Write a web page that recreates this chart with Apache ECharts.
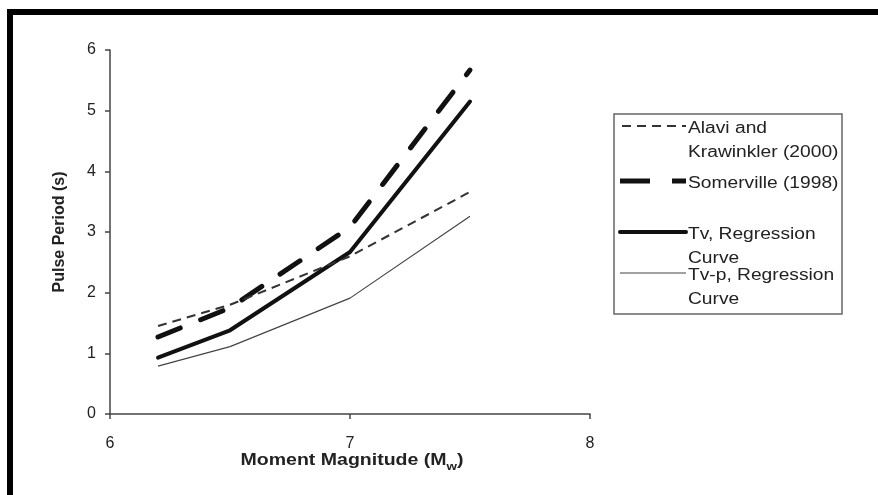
<!DOCTYPE html>
<html>
<head>
<meta charset="utf-8">
<script src="https://cdn.jsdelivr.net/npm/echarts@6/dist/echarts.min.js"></script>
<style>
  html, body { margin: 0; padding: 0; background: #fff; }
  #chart { width: 878px; height: 495px; }
</style>
</head>
<body>
<div id="chart"></div>
<script>
// Pulse period versus moment magnitude
var magnitudes = [6.2, 6.5, 7.0, 7.5];
var alaviKrawinkler = [1.45, 1.8, 2.6, 3.66];
var somerville = [1.27, 1.75, 3.08, 5.67];
var tvRegression = [0.93, 1.38, 2.67, 5.15];
var tvpRegression = [0.79, 1.11, 1.91, 3.26];

var seriesNames = ['Alavi and\nKrawinkler (2000)', 'Somerville (1998)', 'Tv, Regression\nCurve', 'Tv-p, Regression\nCurve'];
var xTicks = [6, 7, 8];
var yTicks = [0, 1, 2, 3, 4, 5, 6];
var xTitleParts = ['Moment Magnitude (M', 'w', ')'];

function pairs(ys) {
  return magnitudes.map(function (m, i) { return [m, ys[i]]; });
}

var lineStyles = [
  { color: '#333', width: 2, type: [9, 6] },
  { color: '#111', width: 5, type: [24, 22], cap: 'round' },
  { color: '#111', width: 4, type: 'solid', cap: 'round', join: 'round' },
  { color: '#444', width: 1.2, type: 'solid' }
];
var seriesData = [alaviKrawinkler, somerville, tvRegression, tvpRegression];

var font = '"Liberation Sans", Arial, Helvetica, sans-serif';

// legend panel built from shapes and text
var legendGraphics = [
  { type: 'rect', shape: { x: 614, y: 114, width: 228, height: 200 },
    style: { fill: '#fff', stroke: '#666', lineWidth: 1.5 }, z: 10 }
];
var legendRows = [126, 181, 232, 273];
var legendSamples = [[622, 686], [620, 686], [620, 686], [620, 686]];
seriesNames.forEach(function (name, i) {
  var ls = lineStyles[i];
  legendGraphics.push({
    type: 'line', z: 11,
    shape: { x1: legendSamples[i][0], y1: legendRows[i], x2: legendSamples[i][1], y2: legendRows[i] },
    style: { stroke: ls.color, lineWidth: ls.width,
             lineDash: Array.isArray(ls.type) ? (i === 1 ? [30, 22] : ls.type) : null,
             lineCap: i === 2 ? 'round' : 'butt' }
  });
  legendGraphics.push({
    type: 'text', z: 11, x: 688, y: legendRows[i] - 9, scaleX: 1.2,
    style: { text: name, font: '16px ' + font, fill: '#222',
             align: 'left', verticalAlign: 'top', lineHeight: 24 }
  });
});

// horizontal axis title: main text, subscript, closing bracket
var mainFont = 'bold 16px ' + font;
var subFont = 'bold 11px ' + font;
var measureCtx = document.createElement('canvas').getContext('2d');
function textWidth(str, f) { measureCtx.font = f; return measureCtx.measureText(str).width; }
var w0 = textWidth(xTitleParts[0], mainFont);
var w1 = textWidth(xTitleParts[1], subFont);
var w2 = textWidth(xTitleParts[2], mainFont);
var titleScale = 1.22;
var titleCenter = 352;
var titleLeft = titleCenter - (w0 + w1 + w2) * titleScale / 2;
var xTitle = {
  type: 'group', x: titleLeft, y: 461, scaleX: titleScale,
  children: [
    { type: 'text', x: 0, y: 0,
      style: { text: xTitleParts[0], font: mainFont, fill: '#222', align: 'left', verticalAlign: 'middle' } },
    { type: 'text', x: w0, y: 6,
      style: { text: xTitleParts[1], font: subFont, fill: '#222', align: 'left', verticalAlign: 'middle' } },
    { type: 'text', x: w0 + w1, y: 0,
      style: { text: xTitleParts[2], font: mainFont, fill: '#222', align: 'left', verticalAlign: 'middle' } }
  ]
};

var chart = echarts.init(document.getElementById('chart'), null, { renderer: 'canvas' });
chart.setOption({
  animation: false,
  backgroundColor: '#fff',
  grid: { left: 110, top: 50, right: 288, bottom: 81 },
  xAxis: {
    type: 'value', min: xTicks[0], max: xTicks[xTicks.length - 1], interval: 1,
    axisLine: { lineStyle: { color: '#444', width: 1.5 } },
    axisTick: { show: true, length: 5, lineStyle: { color: '#444', width: 1.5 } },
    axisLabel: { margin: 22, fontSize: 16, fontFamily: font, color: '#222' },
    splitLine: { show: false }
  },
  yAxis: {
    type: 'value', min: yTicks[0], max: yTicks[yTicks.length - 1], interval: 1,
    name: 'Pulse Period (s)', nameLocation: 'middle', nameGap: 42, nameRotate: 90,
    nameTextStyle: { fontSize: 16, fontWeight: 'bold', fontFamily: font, color: '#222' },
    axisLine: { show: true, lineStyle: { color: '#444', width: 1.5 } },
    axisTick: { show: true, length: 5, lineStyle: { color: '#444', width: 1.5 } },
    axisLabel: { margin: 14, fontSize: 16, fontFamily: font, color: '#222' },
    splitLine: { show: false }
  },
  series: seriesNames.map(function (name, i) {
    return {
      name: name, type: 'line', data: pairs(seriesData[i]),
      showSymbol: false, symbol: 'none', smooth: false,
      lineStyle: lineStyles[i], z: 4 - i
    };
  }),
  graphic: [
    // page frame
    { type: 'rect', shape: { x: 7, y: 9, width: 871, height: 6 }, style: { fill: '#000' } },
    { type: 'rect', shape: { x: 7, y: 9, width: 6, height: 486 }, style: { fill: '#000' } },
    xTitle
  ].concat(legendGraphics)
});
</script>
</body>
</html>
